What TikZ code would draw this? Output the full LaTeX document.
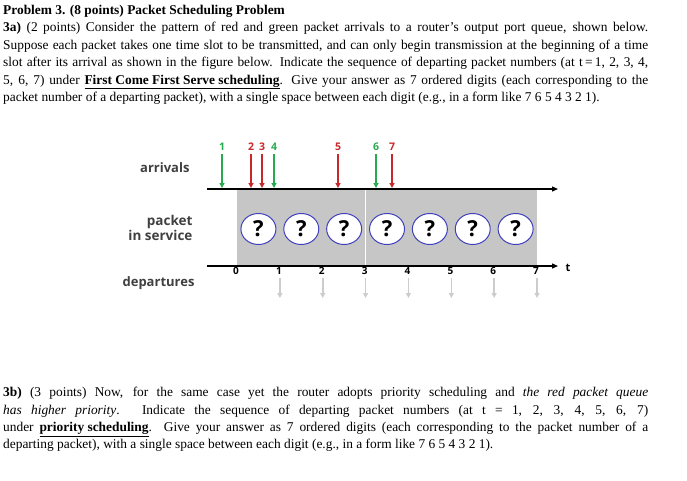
\documentclass[tikz,border=0pt]{standalone}
\usepackage{fontspec}
\setmainfont{Liberation Serif}
\newfontfamily\lsans{Open Sans}
\usetikzlibrary{arrows.meta,shapes.geometric}
\definecolor{gr}{RGB}{40,170,80}
\definecolor{rd}{RGB}{200,40,40}
\begin{document}
\begin{tikzpicture}[x=1pt,y=-1pt,
 para/.style={anchor=north west,text width=645pt,align=justify,inner sep=0pt,font=\fontsize{13.4}{17.4}\selectfont},
 lab/.style={font=\lsans\bfseries\fontsize{13}{14}\selectfont,text=black!75},
 q/.style={ellipse,draw=blue!50!gray,fill=white,line width=1pt,minimum width=35pt,minimum height=31pt,inner sep=0pt,font=\lsans\bfseries\fontsize{22}{22}\selectfont},
 arr/.style={-{Triangle[length=5pt,width=5pt]},line width=1.6pt},
 dep/.style={-{Triangle[length=5pt,width=5pt]},line width=1.6pt,gray!40},
 num/.style={font=\lsans\bfseries\fontsize{10.5}{10}\selectfont},
 tick/.style={font=\lsans\bfseries\fontsize{10}{10}\selectfont}]
\useasboundingbox (0,0) rectangle (687,480);
\node[para] (p1) at (3,5) {\textbf{Problem 3. (8 points) Packet Scheduling Problem}\\
\textbf{3a)} (2 points) Consider the pattern of red and green packet arrivals to a router's output port queue, shown below.\linebreak Suppose each packet takes one time slot to be transmitted, and can only begin transmission at the beginning of a time\linebreak slot after its arrival as shown in the figure below. Indicate the sequence of departing packet numbers (at t\,=\,1, 2, 3, 4,\linebreak 5, 6, 7) under \textbf{\underline{First Come First Serve scheduling}}. Give your answer as 7 ordered digits (each corresponding to the\linebreak packet number of a departing packet), with a single space between each digit (e.g., in a form like 7 6 5 4 3 2 1).};
\node[para] (p2) at (3,387) {\textbf{3b)} (3 points) Now, for the same case yet the router adopts priority scheduling and \textit{the red packet queue}\linebreak \textit{has higher priority}. Indicate the sequence of departing packet numbers (at t = 1, 2, 3, 4, 5, 6, 7)\linebreak under \textbf{\underline{priority scheduling}}. Give your answer as 7 ordered digits (each corresponding to the packet number of a\linebreak departing packet), with a single space between each digit (e.g., in a form like 7 6 5 4 3 2 1).};
% box
\fill[gray!45] (237,189) rectangle (537,266);
\draw[white,line width=1pt] (365.6,190) -- (365.6,265);
\coordinate (a0) at (207,189); \coordinate (a1) at (558,189);
\coordinate (b0) at (207,266); \coordinate (b1) at (558,266);
\draw[-{Triangle[length=6pt,width=5pt]},line width=1.2pt] (a0) -- (a1);
\draw[-{Triangle[length=6pt,width=5pt]},line width=1.2pt] (b0) -- (b1);
\node[font=\lsans\bfseries\fontsize{11}{11}\selectfont,anchor=west] (t) at (562,268) {t};
\foreach \i in {1,...,7}{
  \node[q] (c\i) at ({237+(\i-0.5)*42.86},229) {?};
}
\foreach \i in {0,...,7}{
  \node[tick,anchor=north west,inner sep=1pt] (k\i) at ({237+\i*42.86-5},266) {\i};
}
\foreach \i in {1,...,7}{
  \coordinate (d\i a) at ({237+\i*42.86},278);
  \coordinate (d\i b) at ({237+\i*42.86},298);
  \draw[dep] (d\i a) -- (d\i b);
}
\foreach \x/\n/\c in {222/1/gr,251/2/rd,262/3/rd,274/4/gr,338/5/rd,376/6/gr,392/7/rd}{
  \node[num,text=\c] (n\n) at (\x,147) {\n};
  \coordinate (e\n) at (\x,188);
  \draw[arr,\c] (n\n.south) -- (e\n);
}
\node[lab,anchor=east] (l1) at (193,168) {arrivals};
\node[lab,anchor=east,align=right,font=\lsans\bfseries\fontsize{13.5}{15}\selectfont] (l2) at (196,228) {packet\\in service};
\node[lab,anchor=east] (l3) at (198,283) {departures};
\end{tikzpicture}
\end{document}
